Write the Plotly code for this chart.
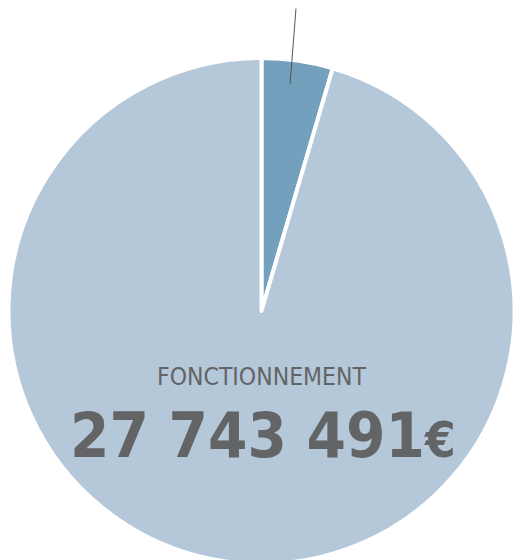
import plotly.graph_objects as go

# Budget split (euros)
sections = ["INVESTISSEMENT", "FONCTIONNEMENT"]
amounts = [1320000, 27743491]
colors = ["#72a0bd", "#b5c8d9"]

main_label = "FONCTIONNEMENT"
main_amount = "27 743 491"

W, H = 523, 622
ML, MR, MT, MB = 8, 8, 57.5, 57.5
plot_w = W - ML - MR
plot_h = H - MT - MB


def px_x(px):
    return (px - ML) / plot_w


def px_y(py):
    return (H - MB - py) / plot_h


fig = go.Figure(
    go.Pie(
        labels=sections,
        values=amounts,
        sort=False,
        direction="clockwise",
        rotation=0,
        marker=dict(colors=colors, line=dict(color="white", width=4)),
        textinfo="none",
        hoverinfo="skip",
        showlegend=False,
    )
)

text_color = "#636466"
font_family = "DejaVu Sans Condensed, Arial Narrow, sans-serif"

fig.add_annotation(
    x=px_x(262), y=px_y(377), xref="paper", yref="paper",
    text=main_label, showarrow=False,
    font=dict(family=font_family, size=24.5, color=text_color),
    xanchor="center", yanchor="middle",
)
fig.add_annotation(
    x=px_x(262.5), y=px_y(436), xref="paper", yref="paper",
    text=f"<b>{main_amount}</b><b><span style='font-size:49px'>€</span></b>",
    showarrow=False,
    font=dict(family=font_family, size=63, color=text_color),
    xanchor="center", yanchor="middle",
)

# leader line from the small slice up towards its label
fig.add_shape(
    type="line", xref="paper", yref="paper",
    x0=px_x(290), y0=px_y(84), x1=px_x(296), y1=px_y(8),
    line=dict(color="#555555", width=1),
)

fig.update_layout(
    width=W, height=H,
    margin=dict(l=ML, r=MR, t=MT, b=MB),
    paper_bgcolor="white",
    plot_bgcolor="white",
)

fig.write_html(
    "out.html",
    post_script="document.documentElement.style.overflow='hidden';document.body.style.overflow='hidden';document.body.style.margin='0';",
)
